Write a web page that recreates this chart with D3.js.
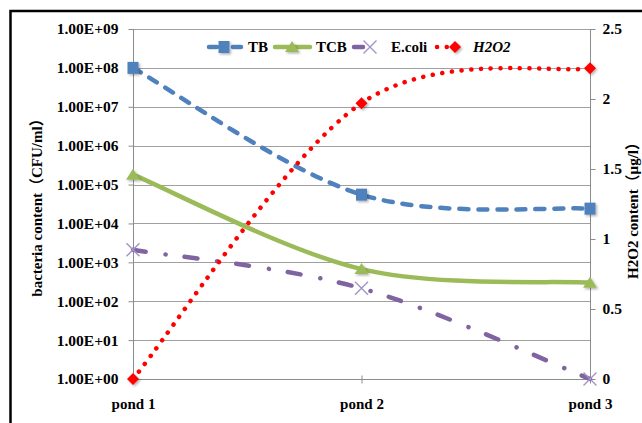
<!DOCTYPE html>
<html>
<head>
<meta charset="utf-8">
<script src="https://cdn.jsdelivr.net/npm/d3@7"></script>
<style>
  body { margin: 0; background: #fff; }
  svg { display: block; }
  text { font-family: "Liberation Serif", "Times New Roman", "Noto Sans CJK SC", serif; font-weight: bold; }
</style>
</head>
<body>
<div id="chart"></div>
<script>
// data
const ponds = ["pond 1", "pond 2", "pond 3"];
const tb = [1.0e8, 5.5e4, 2.4e4];
const tcb = [1.8e5, 6.7e2, 3.0e2];
const ecoli = [2.1e3, 2.15e2, 1];
const h2o2 = [0, 1.97, 2.22];
const leftTicks = [1, 1e1, 1e2, 1e3, 1e4, 1e5, 1e6, 1e7, 1e8, 1e9];
const leftTickLabels = ["1.00E+00", "1.00E+01", "1.00E+02", "1.00E+03", "1.00E+04",
  "1.00E+05", "1.00E+06", "1.00E+07", "1.00E+08", "1.00E+09"];
const rightTicks = [0, 0.5, 1, 1.5, 2, 2.5];

const W = 642, H = 423;
const plotLeft = 133, plotRight = 590, plotTop = 29, plotBottom = 379;
const fs = "15px";

const svg = d3.select("#chart").append("svg")
  .attr("width", W).attr("height", H);

const defs = svg.append("defs");
const f = defs.append("filter").attr("id", "shadow")
  .attr("x", "-50%").attr("y", "-50%").attr("width", "200%").attr("height", "200%");
f.append("feDropShadow").attr("dx", 1.5).attr("dy", 1.5).attr("stdDeviation", 1)
  .attr("flood-color", "#000").attr("flood-opacity", 0.3);

// outer chart border
svg.append("path")
  .attr("d", `M10.5,${H + 5} L10.5,11 L${W + 5},11`)
  .attr("fill", "none").attr("stroke", "#000").attr("stroke-width", 2.5);

const x = d3.scalePoint().domain(ponds).range([plotLeft, plotRight]);
const yL = d3.scaleLog().domain([1, 1e9]).range([plotBottom, plotTop]);
const yR = d3.scaleLinear().domain([0, 2.5]).range([plotBottom, plotTop]);

// gridlines
svg.append("g").selectAll("line")
  .data(leftTicks.slice(1))
  .enter().append("line")
  .attr("x1", plotLeft).attr("x2", plotRight)
  .attr("y1", d => Math.round(yL(d)) + 0.5).attr("y2", d => Math.round(yL(d)) + 0.5)
  .attr("stroke", "#a0a0a0").attr("stroke-width", 1);

// left axis
const gL = svg.append("g")
  .attr("transform", `translate(${plotLeft + 0.5},0)`)
  .call(d3.axisLeft(yL).tickValues(leftTicks)
    .tickFormat((d, i) => leftTickLabels[i]).tickSize(5).tickPadding(10));
gL.selectAll("text").style("font-size", "15.5px").attr("fill", "#000");

// right axis
const gR = svg.append("g")
  .attr("transform", `translate(${plotRight + 0.5},0)`)
  .call(d3.axisRight(yR).tickValues(rightTicks)
    .tickFormat(d => String(d)).tickSize(5).tickPadding(7));
gR.selectAll("text").style("font-size", "15.5px").attr("fill", "#000");

// bottom axis
const gB = svg.append("g")
  .attr("transform", `translate(0,${plotBottom + 0.5})`)
  .call(d3.axisBottom(x).tickSize(4).tickPadding(0));
gB.selectAll(".tick line").attr("y1", -4);
gB.selectAll("text").attr("y", 29).attr("dy", 0).style("font-size", fs).attr("fill", "#000");

svg.selectAll(".domain, .tick line").attr("stroke", "#8c8c8c");
gL.select(".domain").attr("d", `M0,${plotTop}V${plotBottom}`);
gR.select(".domain").attr("d", `M0,${plotTop}V${plotBottom}`);
gB.select(".domain").attr("d", `M${plotLeft},0H${plotRight}`);

// Excel-style smoothed line
function smooth(pts) {
  const p = d3.path();
  p.moveTo(pts[0][0], pts[0][1]);
  for (let i = 0; i < pts.length - 1; i++) {
    const p0 = pts[i - 1] || pts[i], p1 = pts[i], p2 = pts[i + 1], p3 = pts[i + 2] || pts[i + 1];
    p.bezierCurveTo(
      p1[0] + (p2[0] - p0[0]) / 6, p1[1] + (p2[1] - p0[1]) / 6,
      p2[0] - (p3[0] - p1[0]) / 6, p2[1] - (p3[1] - p1[1]) / 6,
      p2[0], p2[1]);
  }
  return p.toString();
}

const series = [
  { name: "TB", values: tb, scale: yL, color: "#4f81bd", dash: "9,10", width: 4.5, marker: "square" },
  { name: "TCB", values: tcb, scale: yL, color: "#9bbb59", dash: null, width: 4.5, marker: "triangle" },
  { name: "E.coli", values: ecoli, scale: yL, color: "#8064a2", dash: "13,20,0.1,19", width: 4.5, marker: "x" },
  { name: "H2O2", values: h2o2, scale: yR, color: "#ff0000", dash: "0.1,9.6", width: 4.5, marker: "diamond" }
];

function drawMarker(g, type, cx, cy, color) {
  if (type === "square") {
    g.append("rect").attr("x", cx - 5.5).attr("y", cy - 6).attr("width", 11).attr("height", 12)
      .attr("fill", color).attr("filter", "url(#shadow)");
  } else if (type === "triangle") {
    g.append("path").attr("d", `M${cx},${cy - 6}L${cx + 7},${cy + 5}L${cx - 7},${cy + 5}Z`)
      .attr("fill", color).attr("filter", "url(#shadow)");
  } else if (type === "x") {
    g.append("path").attr("d", `M${cx - 6.5},${cy - 6.5}L${cx + 6.5},${cy + 6.5}M${cx + 6.5},${cy - 6.5}L${cx - 6.5},${cy + 6.5}`)
      .attr("stroke", "#a294c6").attr("stroke-width", 1.4).attr("fill", "none");
  } else {
    g.append("path").attr("d", `M${cx},${cy - 6}L${cx + 6},${cy}L${cx},${cy + 6}L${cx - 6},${cy}Z`)
      .attr("fill", color).attr("filter", "url(#shadow)");
  }
}

const linesG = svg.append("g");
const marksG = svg.append("g");
series.forEach(s => {
  const pts = s.values.map((v, i) => [x(ponds[i]), s.scale(v)]);
  linesG.append("path")
    .attr("d", smooth(pts))
    .attr("fill", "none")
    .attr("stroke", s.color)
    .attr("stroke-width", s.width)
    .attr("stroke-linecap", "round")
    .attr("stroke-dasharray", s.dash);
  pts.forEach(p => drawMarker(marksG, s.marker, p[0], p[1], s.color));
});

// legend
const legend = svg.append("g");
const ly = 47;
const legendItems = [
  { s: series[0], x1: 209, x2: 241, dash: "8,16", mx: 224, tx: 248 },
  { s: series[1], x1: 275, x2: 310, dash: null, mx: 292, tx: 316 },
  { s: series[2], x1: 354, x2: 379, dash: "9,16,0.1,20", mx: 370, tx: 391 },
  { s: series[3], x1: 437, x2: 466, dash: "0.1,9.6", mx: 455, tx: 473 }
];
legendItems.forEach(d => {
  legend.append("line")
    .attr("x1", d.x1).attr("x2", d.x2).attr("y1", ly).attr("y2", ly)
    .attr("stroke", d.s.color).attr("stroke-width", d.s.width)
    .attr("stroke-linecap", "round").attr("stroke-dasharray", d.dash);
  drawMarker(legend, d.s.marker, d.mx, ly, d.s.color);
  legend.append("text")
    .attr("x", d.tx).attr("y", ly + 5)
    .style("font-size", fs)
    .style("font-style", d.s.name === "H2O2" ? "italic" : "normal")
    .text(d.s.name);
});

// axis titles
svg.append("text")
  .attr("transform", `translate(42,${(plotTop + plotBottom) / 2}) rotate(-90)`)
  .attr("text-anchor", "middle")
  .style("font-size", fs)
  .text("bacteria content（CFU/ml）");

svg.append("text")
  .attr("transform", `translate(638,${(plotTop + plotBottom) / 2 + 3}) rotate(-90)`)
  .attr("text-anchor", "middle")
  .style("font-size", fs)
  .text("H2O2 content（μg/l）");
</script>
</body>
</html>
